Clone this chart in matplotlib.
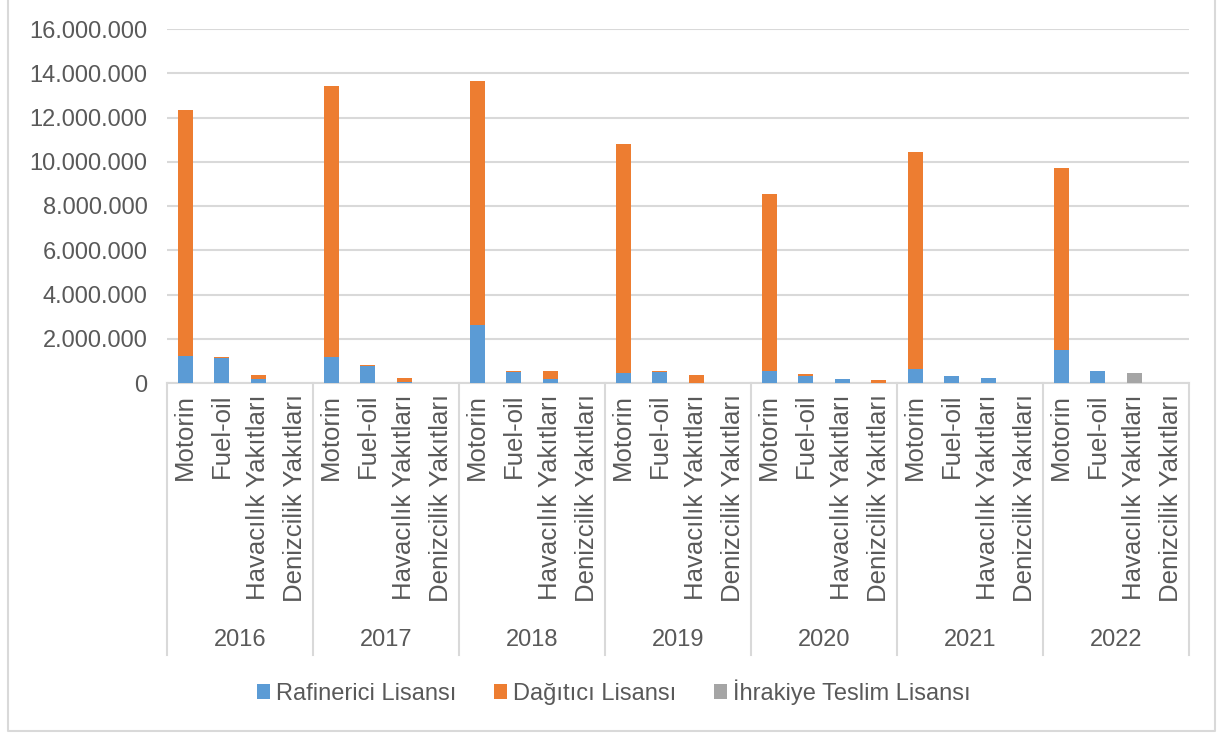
import matplotlib.pyplot as plt
import matplotlib.transforms as mtransforms
import numpy as np

plt.rcParams['font.family'] = ['Liberation Sans', 'DejaVu Sans']

years = ['2016', '2017', '2018', '2019', '2020', '2021', '2022']
fuels = ['Motorin', 'Fuel-oil', 'Havacılık Yakıtları', 'Denizcilik Yakıtları']

# values per year, in fuel order (Motorin, Fuel-oil, Havacilik, Denizcilik)
rafineri = [
    1230000, 1110000, 170000, 0,
    1160000, 750000, 50000, 0,
    2640000, 480000, 180000, 0,
    450000, 510000, 20000, 0,
    550000, 330000, 180000, 0,
    620000, 300000, 240000, 0,
    1490000, 550000, 0, 0,
]
dagitici = [
    11100000, 60000, 190000, 0,
    12260000, 60000, 190000, 0,
    11010000, 70000, 360000, 0,
    10360000, 40000, 340000, 0,
    8010000, 60000, 0, 130000,
    9830000, 0, 0, 0,
    8240000, 0, 0, 0,
]
ihrakiye = [
    0, 0, 0, 0,
    0, 0, 0, 0,
    0, 0, 0, 0,
    0, 0, 0, 0,
    0, 0, 0, 0,
    0, 0, 0, 0,
    0, 0, 440000, 0,
]

blue = '#5B9BD5'
orange = '#ED7D31'
grey = '#A5A5A5'
txt = '#595959'
line = '#D9D9D9'

W, H = 1217, 733
fig = plt.figure(figsize=(W / 100, H / 100), dpi=100)
ax = fig.add_axes([167 / W, (H - 383) / H, (1189 - 167) / W, (383 - 29) / H])

x = np.arange(len(rafineri))
raf = np.array(rafineri)
dag = np.array(dagitici)
ihr = np.array(ihrakiye)
bw = 0.4
ax.bar(x, raf, bw, color=blue, label='Rafinerici Lisansı', zorder=3)
ax.bar(x, dag, bw, bottom=raf, color=orange, label='Dağıtıcı Lisansı', zorder=3)
ax.bar(x, ihr, bw, bottom=raf + dag, color=grey, label='İhrakiye Teslim Lisansı', zorder=3)

ax.set_xlim(-0.5, len(x) - 0.5)
ax.set_ylim(0, 16000000)
ax.set_yticks(np.arange(0, 16000001, 2000000))
ax.set_yticklabels([f'{v:,}'.replace(',', '.') for v in range(0, 16000001, 2000000)])
ax.tick_params(axis='y', length=0, labelsize=17, labelcolor=txt, pad=14)
ax.set_xticks([])
ax.grid(axis='y', color=line, linewidth=1.5, zorder=0)
for s in ['left', 'right', 'top']:
    ax.spines[s].set_visible(False)
ax.spines['bottom'].set_color(line)
ax.spines['bottom'].set_linewidth(1.5)

# two-level category axis below the plot
trans = mtransforms.blended_transform_factory(ax.transData, ax.transAxes)
ax_h_px = 383 - 29
def ay(px):
    return -(px - 383) / ax_h_px

for i, xi in enumerate(x):
    ax.text(xi, ay(394), fuels[i % 4], rotation=90, ha='center', va='top',
            fontsize=18.5, color=txt, transform=trans)
for g, yr in enumerate(years):
    ax.text(g * 4 + 1.5, ay(640), yr, ha='center', va='center',
            fontsize=17, color=txt, transform=trans)
for g in range(len(years) + 1):
    ax.plot([g * 4 - 0.5, g * 4 - 0.5], [0, ay(655)], color=line, lw=1.5,
            transform=trans, clip_on=False)

fig.legend(loc='center', bbox_to_anchor=(614 / W, (H - 692) / H), ncol=3, frameon=False,
           fontsize=17, labelcolor=txt, handlelength=0.55, handleheight=0.55,
           handletextpad=0.25, columnspacing=1.6)

# outer chart border
fig.add_artist(plt.Line2D([8 / W, 8 / W, 1215 / W, 1215 / W], [1, 2 / H, 2 / H, 1],
                          color=line, lw=1.5, transform=fig.transFigure))

fig.savefig('out.png', dpi=100)
